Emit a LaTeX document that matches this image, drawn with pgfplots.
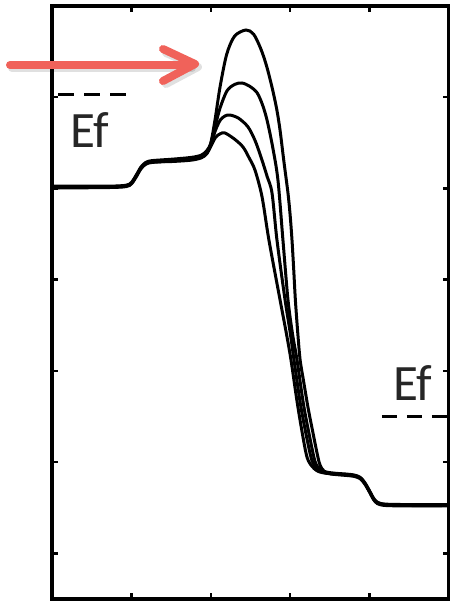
\documentclass[border=0pt]{standalone}
\usepackage{pgfplots}
\pgfplotsset{compat=1.18}
\usepackage{fontspec}
\setmainfont{Carlito}
\definecolor{arrowred}{RGB}{240,98,90}
\begin{document}
\begin{tikzpicture}
\useasboundingbox (0pt,0pt) rectangle (450pt,614pt);
% arrow shadow
\draw[black, opacity=0.12, line width=8pt, line cap=round, line join=round] (12pt,546pt) -- (192pt,546pt);
\draw[black, opacity=0.12, line width=8pt, line cap=round, line join=round] (166pt,561pt) -- (198pt,547pt) -- (166pt,530pt);
\begin{axis}[
  at={(52pt,15pt)}, anchor=south west,
  scale only axis, width=397pt, height=593pt,
  xmin=0, xmax=5, ymin=-0.5, ymax=6,
  xtick={1,2,3,4}, ytick={0,1,2,3,4,5},
  xticklabels={}, yticklabels={},
  tick align=inside, major tick length=6pt,
  tick style={line width=2.5pt, black},
  axis line style={line width=3.2pt},
  curve/.style={black, mark=none, line width=3pt, smooth, tension=0.5},
]
% curve 1 (highest peak)
\addplot[curve] coordinates {(0,4.025) (0.7,4.025) (0.93,4.035) (1.0,4.065) (1.06,4.145) (1.12,4.235) (1.18,4.285) (1.26,4.305) (1.5,4.32) (1.75,4.34) (1.88,4.365) (1.95,4.415) (2.0,4.5) (2.053,4.75) (2.116,5.11) (2.2,5.47) (2.3,5.67) (2.443,5.737) (2.54,5.69) (2.63,5.53) (2.70,5.35) (2.771,5.11) (2.83,4.87) (2.872,4.64) (2.92,4.30) (2.972,3.95) (3.0,3.70) (3.023,3.43) (3.045,3.10) (3.065,2.78) (3.095,2.42) (3.125,2.12) (3.17,1.88) (3.224,1.60) (3.28,1.35) (3.338,1.10) (3.375,0.97) (3.43,0.90) (3.55,0.88) (3.7,0.87) (3.8,0.86) (3.88,0.835) (3.94,0.775) (4.0,0.685) (4.05,0.605) (4.1,0.56) (4.2,0.54) (4.5,0.535) (5,0.535)};
% curve 2
\addplot[curve] coordinates {(0,4.005) (0.7,4.01) (0.93,4.02) (1.0,4.05) (1.06,4.125) (1.12,4.215) (1.18,4.265) (1.26,4.285) (1.5,4.30) (1.75,4.32) (1.88,4.345) (1.95,4.40) (2.0,4.49) (2.05,4.66) (2.116,4.88) (2.204,5.07) (2.30,5.14) (2.393,5.156) (2.49,5.12) (2.582,5.05) (2.65,4.92) (2.708,4.75) (2.78,4.45) (2.846,4.09) (2.909,3.43) (2.972,2.78) (3.03,2.40) (3.086,2.12) (3.174,1.60) (3.287,1.10) (3.33,0.97) (3.40,0.90) (3.52,0.87) (3.7,0.855) (3.8,0.845) (3.88,0.82) (3.94,0.76) (4.0,0.67) (4.05,0.59) (4.1,0.545) (4.2,0.525) (4.5,0.52) (5,0.52)};
% curve 3
\addplot[curve] coordinates {(0,4.02) (0.7,4.02) (0.93,4.03) (1.0,4.06) (1.06,4.14) (1.12,4.225) (1.18,4.275) (1.26,4.295) (1.5,4.305) (1.75,4.325) (1.88,4.35) (1.95,4.39) (2.0,4.48) (2.06,4.64) (2.12,4.75) (2.18,4.795) (2.242,4.805) (2.35,4.77) (2.469,4.674) (2.56,4.52) (2.645,4.31) (2.71,4.13) (2.771,3.95) (2.834,3.43) (2.935,2.78) (3.0,2.42) (3.048,2.12) (3.136,1.60) (3.249,1.10) (3.30,0.97) (3.38,0.90) (3.50,0.875) (3.7,0.865) (3.8,0.855) (3.88,0.83) (3.94,0.77) (4.0,0.68) (4.05,0.60) (4.1,0.555) (4.2,0.535) (4.5,0.53) (5,0.53)};
% curve 4 (lowest peak)
\addplot[curve] coordinates {(0,4.01) (0.7,4.015) (0.93,4.025) (1.0,4.055) (1.06,4.135) (1.12,4.22) (1.18,4.27) (1.26,4.29) (1.5,4.295) (1.75,4.31) (1.88,4.335) (1.95,4.38) (2.0,4.46) (2.06,4.56) (2.12,4.60) (2.179,4.608) (2.30,4.54) (2.406,4.454) (2.48,4.34) (2.557,4.20) (2.645,3.91) (2.733,3.43) (2.872,2.78) (2.95,2.42) (3.01,2.12) (3.098,1.60) (3.199,1.10) (3.26,0.97) (3.35,0.90) (3.48,0.875) (3.7,0.86) (3.8,0.85) (3.88,0.825) (3.94,0.765) (4.0,0.675) (4.05,0.595) (4.1,0.55) (4.2,0.53) (4.5,0.525) (5,0.525)};
% Fermi levels
\addplot[black, mark=none, line width=3pt, dash pattern=on 16pt off 10pt] coordinates {(0.076,5.035) (0.93,5.035)};
\addplot[black, mark=none, line width=3pt, dash pattern=on 15pt off 10pt] coordinates {(4.156,1.495) (5,1.495)};
\node[anchor=base, inner sep=0pt, text=black!85, font=\fontsize{51}{60}\selectfont] at (axis cs:0.479,4.454) {Ef};
\node[anchor=base, inner sep=0pt, text=black!85, font=\fontsize{51}{60}\selectfont] at (axis cs:4.547,1.681) {Ef};
\end{axis}
% red arrow
\draw[arrowred, line width=8pt, line cap=round, line join=round] (10pt,549pt) -- (190pt,549pt);
\draw[arrowred, line width=8pt, line cap=round, line join=round] (163pt,565pt) -- (195pt,550pt) -- (163pt,533pt);
\end{tikzpicture}
\end{document}
